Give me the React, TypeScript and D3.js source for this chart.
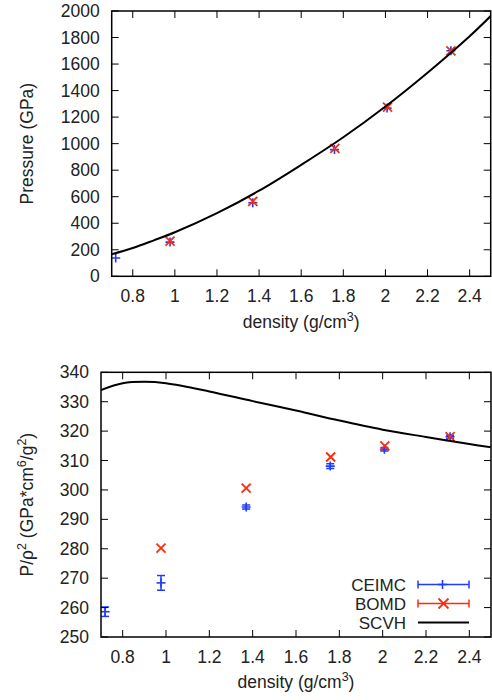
import React from "react";
import * as d3 from "d3";

// ---- data ----
const densityCEIMC = [0.719, 0.977, 1.37, 1.758, 2.008, 2.311];
const pressureCEIMC = [138, 258, 555, 955, 1268, 1700];
const ratioCEIMC = [258.6, 268.4, 294.2, 308.1, 313.8, 318.1];
const ratioErrCEIMC = [1.6, 2.5, 0.7, 0.8, 0.6, 0.5];

const densityBOMD = [0.977, 1.37, 1.76, 2.01, 2.311];
const pressureBOMD = [266, 565, 965, 1276, 1700];
const ratioBOMD = [280.2, 300.6, 311.2, 315.0, 318.1];

const densitySCVH = [0.7, 0.8, 0.9, 1.0, 1.2, 1.4, 1.6, 1.8, 2.0, 2.2, 2.4, 2.5];
const pressureSCVH = [166, 213, 271, 332, 476, 645, 840, 1048, 1280, 1535, 1810, 1962];
const ratioSCVH = [334.0, 336.3, 336.8, 336.3, 333.5, 330.2, 327.0, 323.6, 320.5, 318.0, 315.6, 314.5];

const xTicks = [0.8, 1, 1.2, 1.4, 1.6, 1.8, 2, 2.2, 2.4];
const pTicks = [0, 200, 400, 600, 800, 1000, 1200, 1400, 1600, 1800, 2000];
const rTicks = [250, 260, 270, 280, 290, 300, 310, 320, 330, 340];
const legendLabels = ["CEIMC", "BOMD", "SCVH"];

const BLUE = "#1f3cff";
const RED = "#ff2a0a";
const TXT = "#222";
const FONT = "'Liberation Sans', Arial, Helvetica, sans-serif";
const FS = 17.5;
const TICK = 7;

function Plus({ x, y, s = 4.5 }: { x: number; y: number; s?: number }) {
  return (
    <g stroke={BLUE} strokeWidth={1.6}>
      <line x1={x - s} x2={x + s} y1={y} y2={y} />
      <line x1={x} x2={x} y1={y - s} y2={y + s} />
    </g>
  );
}
function Cross({ x, y, s = 4.5 }: { x: number; y: number; s?: number }) {
  return (
    <g stroke={RED} strokeWidth={1.8}>
      <line x1={x - s} x2={x + s} y1={y - s} y2={y + s} />
      <line x1={x - s} x2={x + s} y1={y + s} y2={y - s} />
    </g>
  );
}

function Frame({ x, y, l, r, t, b, yTicks, yFmt }: any) {
  return (
    <g>
      {xTicks.map((v) => (
        <g key={"x" + v} stroke="#000" strokeWidth={1}>
          <line x1={x(v)} x2={x(v)} y1={b} y2={b - TICK} />
          <line x1={x(v)} x2={x(v)} y1={t} y2={t + TICK} />
        </g>
      ))}
      {yTicks.map((v: number) => (
        <g key={"y" + v} stroke="#000" strokeWidth={1}>
          <line x1={l} x2={l + TICK} y1={y(v)} y2={y(v)} />
          <line x1={r} x2={r - TICK} y1={y(v)} y2={y(v)} />
        </g>
      ))}
      <rect x={l} y={t} width={r - l} height={b - t} fill="none" stroke="#000" strokeWidth={1.5} />
      {xTicks.map((v) => (
        <text key={"xl" + v} x={x(v)} y={b + 26} textAnchor="middle" fontSize={FS} fill={TXT}>
          {String(v)}
        </text>
      ))}
      {yTicks.map((v: number) => (
        <text key={"yl" + v} x={l - 12} y={y(v) + 6} textAnchor="end" fontSize={FS} fill={TXT}>
          {yFmt(v)}
        </text>
      ))}
    </g>
  );
}

export default function App() {
  // top panel
  const tl = 111.7, tr = 490.7, tt = 11, tb = 276.3;
  const x1 = d3.scaleLinear().domain([0.7, 2.5]).range([tl, tr]);
  const y1 = d3.scaleLinear().domain([0, 2000]).range([tb, tt]);
  // bottom panel
  const bl = 101, br = 491, bt = 372.3, bb = 637;
  const x2 = d3.scaleLinear().domain([0.7, 2.5]).range([bl, br]);
  const y2 = d3.scaleLinear().domain([250, 340]).range([bb, bt]);

  const line1 = d3
    .line<number>()
    .x((d, i) => x1(densitySCVH[i]))
    .y((d) => y1(d))
    .curve(d3.curveCatmullRom);
  const line2 = d3
    .line<number>()
    .x((d, i) => x2(densitySCVH[i]))
    .y((d) => y2(d))
    .curve(d3.curveCatmullRom);

  const legX1 = 418, legX2 = 469, legTextX = 406;
  const legY = [584.5, 603.5, 622.5];

  return (
    <svg
      width={492}
      height={700}
      style={{ position: "absolute", left: 0, top: 0, background: "#fff" }}
      fontFamily={FONT}
    >
      <rect x={0} y={0} width={492} height={700} fill="#fff" />
      <defs>
        <clipPath id="c1">
          <rect x={tl} y={tt} width={tr - tl} height={tb - tt} />
        </clipPath>
        <clipPath id="c2">
          <rect x={bl} y={bt} width={br - bl} height={bb - bt} />
        </clipPath>
      </defs>
      {/* ---------- top panel ---------- */}
      <g clipPath="url(#c1)">
        {pressureCEIMC.map((p, i) => (
          <Plus key={"pc" + i} x={x1(densityCEIMC[i])} y={y1(p)} />
        ))}
        {pressureBOMD.map((p, i) => (
          <Cross key={"pb" + i} x={x1(densityBOMD[i])} y={y1(p)} />
        ))}
        <path d={line1(pressureSCVH) || ""} fill="none" stroke="#000" strokeWidth={2} />
      </g>
      <Frame x={x1} y={y1} l={tl} r={tr} t={tt} b={tb} yTicks={pTicks} yFmt={(v: number) => String(v)} />
      <text x={(tl + tr) / 2} y={328} textAnchor="middle" fontSize={FS} fill={TXT}>
        density (g/cm
        <tspan dy={-7} fontSize={12.5}>3</tspan>
        <tspan dy={7}>)</tspan>
      </text>
      <text
        transform={`translate(33,${(tt + tb) / 2}) rotate(-90)`}
        textAnchor="middle"
        fontSize={FS}
        fill={TXT}
      >
        Pressure (GPa)
      </text>

      {/* ---------- bottom panel ---------- */}
      <g clipPath="url(#c2)">
        {ratioCEIMC.map((r, i) => {
          const cx = x2(densityCEIMC[i]);
          const e = ratioErrCEIMC[i];
          return (
            <g key={"rc" + i}>
              <g stroke={BLUE} strokeWidth={1.5}>
                <line x1={cx} x2={cx} y1={y2(r - e)} y2={y2(r + e)} />
                <line x1={cx - 4} x2={cx + 4} y1={y2(r - e)} y2={y2(r - e)} />
                <line x1={cx - 4} x2={cx + 4} y1={y2(r + e)} y2={y2(r + e)} />
              </g>
              <Plus x={cx} y={y2(r)} />
            </g>
          );
        })}
        {ratioBOMD.map((r, i) => (
          <Cross key={"rb" + i} x={x2(densityBOMD[i])} y={y2(r)} />
        ))}
        <path d={line2(ratioSCVH) || ""} fill="none" stroke="#000" strokeWidth={2} />
      </g>
      <Frame x={x2} y={y2} l={bl} r={br} t={bt} b={bb} yTicks={rTicks} yFmt={(v: number) => String(v)} />
      <text x={(bl + br) / 2} y={688} textAnchor="middle" fontSize={FS} fill={TXT}>
        density (g/cm
        <tspan dy={-7} fontSize={12.5}>3</tspan>
        <tspan dy={7}>)</tspan>
      </text>
      <text
        transform={`translate(33,${(bt + bb) / 2}) rotate(-90)`}
        textAnchor="middle"
        fontSize={FS}
        fill={TXT}
      >
        P/ρ
        <tspan dy={-7} fontSize={12.5}>2</tspan>
        <tspan dy={7}> (GPa*cm</tspan>
        <tspan dy={-7} fontSize={12.5}>6</tspan>
        <tspan dy={7}>/g</tspan>
        <tspan dy={-7} fontSize={12.5}>2</tspan>
        <tspan dy={7}>)</tspan>
      </text>

      {/* legend */}
      {legendLabels.map((lab, i) => (
        <text key={lab} x={legTextX} y={legY[i] + 6} textAnchor="end" fontSize={17} fill={TXT}>
          {lab}
        </text>
      ))}
      <g stroke={BLUE} strokeWidth={1.5}>
        <line x1={legX1} x2={legX2} y1={legY[0]} y2={legY[0]} />
        <line x1={legX1} x2={legX1} y1={legY[0] - 4} y2={legY[0] + 4} />
        <line x1={legX2} x2={legX2} y1={legY[0] - 4} y2={legY[0] + 4} />
      </g>
      <Plus x={(legX1 + legX2) / 2 - 1} y={legY[0]} />
      <g stroke={RED} strokeWidth={1.5}>
        <line x1={legX1} x2={legX2} y1={legY[1]} y2={legY[1]} />
        <line x1={legX1} x2={legX1} y1={legY[1] - 4} y2={legY[1] + 4} />
        <line x1={legX2} x2={legX2} y1={legY[1] - 4} y2={legY[1] + 4} />
      </g>
      <Cross x={(legX1 + legX2) / 2} y={legY[1]} s={5} />
      <line x1={legX1} x2={legX2} y1={legY[2]} y2={legY[2]} stroke="#000" strokeWidth={2} />
    </svg>
  );
}
